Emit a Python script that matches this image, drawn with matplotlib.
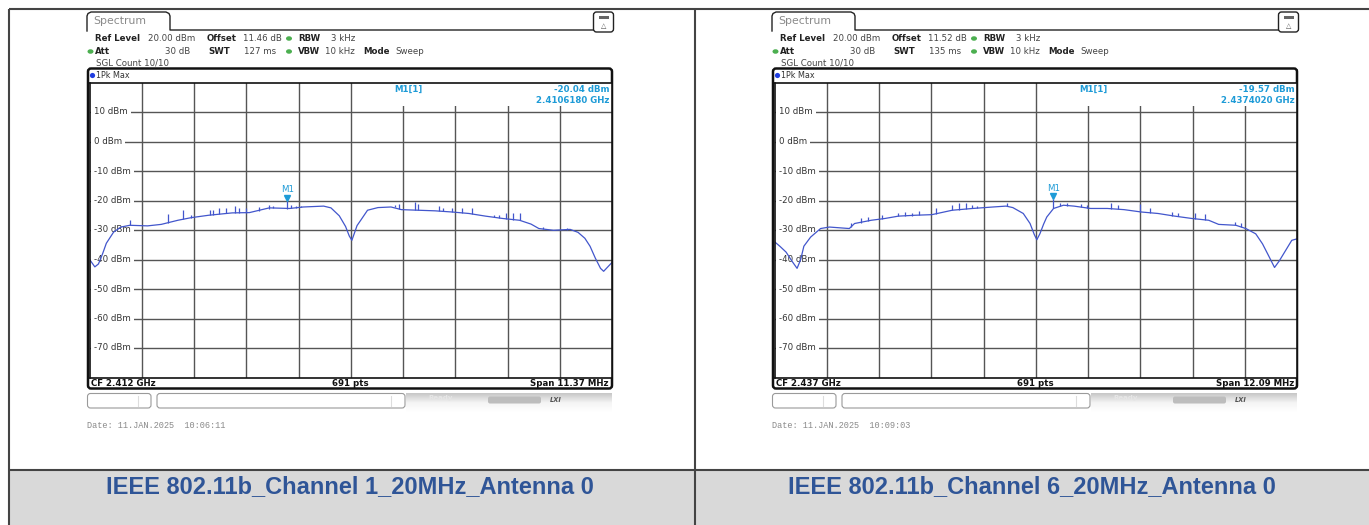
import matplotlib
matplotlib.use("Agg")
import matplotlib.pyplot as plt
from matplotlib.patches import FancyBboxPatch, Rectangle, Ellipse, Circle
import matplotlib.transforms as mtrans
import numpy as np

W, H = 1369, 525

# ------------------------------------------------------------------ data
titles = ["IEEE 802.11b_Channel 1_20MHz_Antenna 0",
          "IEEE 802.11b_Channel 6_20MHz_Antenna 0"]
center_ghz = [2.412, 2.437]
span_mhz = [11.37, 12.09]
offset_db = ["11.46 dB", "11.52 dB"]
swt_txt = ["127 ms", "135 ms"]
dates = ["Date: 11.JAN.2025  10:06:11", "Date: 11.JAN.2025  10:09:03"]
y_ticks = [10, 0, -10, -20, -30, -40, -50, -60, -70]
y_range = (-80, 20)
m1_freq_ghz = [2.4106180, 2.4374020]
m1_level = [-20.04, -19.57]

# channel 1 trace (offset from centre in MHz, level in dBm)
ch1_off = [-5.685, -5.571, -5.492, -5.401, -5.321, -5.162, -5.003, -4.809, -4.423,
           -4.127, -3.763, -3.468, -3.093, -2.581, -2.206, -1.774, -1.330, -1.035,
           -0.591, -0.432, -0.250, -0.114, -0.034, 0.023, 0.080, 0.136, 0.216, 0.364,
           0.591, 0.875, 1.103, 1.467, 1.831, 2.206, 2.570, 2.933, 3.309, 3.673, 3.923,
           4.093, 4.412, 4.775, 4.946, 5.094, 5.207, 5.321, 5.435, 5.503, 5.594, 5.685]
ch1_lvl = [-40.0, -42.5, -41.5, -38.0, -34.5, -30.7, -29.0, -28.4, -28.6,
           -28.1, -26.7, -25.8, -25.0, -24.2, -24.1, -22.5, -22.7, -22.2,
           -21.9, -22.5, -25.2, -28.8, -32.0, -33.5, -31.0, -28.5, -26.7, -23.3,
           -22.4, -22.2, -23.1, -23.3, -23.5, -23.9, -24.4, -25.3, -26.1, -26.7, -28.0,
           -29.5, -30.1, -29.8, -30.8, -32.8, -35.5, -39.5, -43.0, -44.0, -42.5, -41.0]
ch1_spur_off = [-4.809, -3.968, -3.650, -3.468, -3.070, -2.990, -2.877, -2.717, -2.524,
                -2.433, -2.285, -1.990, -1.774, -1.683, -1.382, -1.296, -1.182, -1.080,
                0.955, 1.057, 1.387, 1.467, 1.910, 2.012, 2.206, 2.422, 2.638, 3.127,
                3.229, 3.377, 3.525, 3.673, 4.184, 4.707]
ch1_spur_base = [-28.4, -27.5, -26.3, -25.8, -25.0, -24.9, -24.6, -24.4, -24.2,
                 -24.2, -24.1, -23.5, -22.8, -22.6, -22.8, -22.7, -22.6, -22.3,
                 -22.3, -22.8, -23.2, -23.3, -23.5, -23.6, -23.9, -24.2, -24.5, -25.7,
                 -25.9, -26.2, -26.5, -26.7, -29.7, -29.9]
ch1_spur_top = [-26.7, -24.7, -23.1, -24.8, -23.3, -23.1, -22.7, -22.4, -21.9,
                -22.7, -22.4, -22.2, -21.4, -21.9, -20.04, -21.6, -21.9, -21.7,
                -21.6, -21.3, -20.5, -21.3, -21.9, -22.5, -22.7, -22.5, -22.5, -24.8,
                -24.8, -24.4, -24.4, -24.2, -29.0, -29.2]

# channel 6 trace
ch6_off = [-6.045, -5.924, -5.779, -5.646, -5.525, -5.441, -5.368, -5.211, -4.981,
           -4.776, -4.316, -4.195, -3.808, -3.494, -3.180, -2.793, -2.406, -1.934,
           -1.463, -0.991, -0.689, -0.532, -0.290, -0.133, -0.036, 0.024, 0.097, 0.181,
           0.254, 0.411, 0.641, 0.883, 1.269, 1.656, 2.043, 2.442, 2.829, 3.216, 3.615,
           4.002, 4.232, 4.630, 4.860, 5.090, 5.247, 5.380, 5.525, 5.634, 5.779, 5.924,
           6.045]
ch6_lvl = [-34.0, -35.5, -37.5, -40.5, -43.0, -40.0, -35.5, -32.4, -29.5,
           -29.0, -29.5, -27.8, -26.7, -26.1, -25.3, -25.0, -24.8, -23.3,
           -22.7, -22.2, -21.9, -22.4, -24.4, -27.8, -31.5, -33.3, -31.2, -28.0,
           -25.6, -22.7, -21.6, -21.9, -22.7, -22.7, -23.1, -23.9, -24.4, -25.3, -26.1,
           -26.7, -28.1, -28.4, -29.5, -31.3, -34.7, -38.5, -42.7, -40.5, -37.0, -33.5,
           -33.0]
ch6_spur_off = [-4.268, -4.038, -3.881, -3.567, -3.192, -3.023, -2.865, -2.708, -2.321,
                -1.934, -1.777, -1.620, -1.475, -1.366, -0.677, 0.402, 0.568, 0.725,
                1.040, 1.185, 1.741, 1.898, 2.406, 2.636, 3.143, 3.301, 3.687, 3.917,
                4.618, 4.739]
ch6_spur_base = [-29.0, -27.5, -27.0, -26.2, -25.4, -25.2, -25.1, -25.0, -24.6,
                 -23.3, -23.1, -22.9, -22.7, -22.6, -21.9, -22.5, -21.7, -21.7,
                 -22.2, -22.5, -22.8, -23.0, -23.9, -24.1, -25.1, -25.4, -26.2, -26.6,
                 -28.4, -29.0]
ch6_spur_top = [-27.6, -26.1, -25.6, -25.0, -24.2, -23.9, -24.2, -23.5, -22.7,
                -21.6, -21.0, -21.0, -21.4, -21.9, -21.0, -19.57, -21.0, -20.8,
                -21.3, -21.6, -20.8, -21.6, -21.3, -22.5, -23.9, -24.2, -24.4, -24.6,
                -27.3, -27.6]

traces = [(ch1_off, ch1_lvl, ch1_spur_off, ch1_spur_base, ch1_spur_top),
          (ch6_off, ch6_lvl, ch6_spur_off, ch6_spur_base, ch6_spur_top)]

# ------------------------------------------------------------------ style
TRACE_C = "#4256cc"
MARK_C = "#1e9bd7"
GRID_C = "#555555"
FS = 6.2
plt.rcParams["font.family"] = ["DejaVu Sans"]

fig = plt.figure(figsize=(W / 100, H / 100), dpi=100)
ax0 = fig.add_axes([0, 0, 1, 1])
ax0.set_xlim(0, W)
ax0.set_ylim(H, 0)
ax0.axis("off")

# table frame
ax0.add_patch(Rectangle((9, 470), W - 9, H - 470, facecolor="#d9d9d9", edgecolor="none"))
for xs, ys in [([9, W], [9, 9]), ([9, 9], [9, H]), ([695, 695], [9, H]), ([9, W], [470, 470])]:
    ax0.plot(xs, ys, color="#444444", lw=1.5, solid_capstyle="butt")
for i, cx in enumerate([349.5, 1031.5]):
    ax0.text(cx, 487, titles[i], ha="center", va="center", fontsize=17,
             fontweight="bold", color="#2f5597", family="Liberation Sans")


def panel(i, ox):
    X = lambda v: v + ox
    # tab and top rule
    tx = [87, 87, 88, 91, 166, 169, 170, 170, 593]
    ty = [31, 16, 13.5, 12, 12, 13.5, 16, 30, 30]
    ax0.plot([X(v) for v in tx], ty, color="#222222", lw=1.0)
    ax0.text(X(93), 21.5, "Spectrum", fontsize=7.8, color="#8a8a8a", va="center")
    # icon box
    ax0.add_patch(FancyBboxPatch((X(593.5), 12), 20, 20,
                                 boxstyle="round,pad=0,rounding_size=3",
                                 fc="white", ec="#222222", lw=1.0))
    ax0.add_patch(Rectangle((X(598.5), 15.5), 10, 3, fc="#666666", ec="none"))
    ax0.text(X(603.5), 26, "\u25b3", fontsize=5, ha="center", va="center", color="#555555")

    # header
    lab = dict(fontsize=FS, fontweight="bold", color="#222222", va="center")
    val = dict(fontsize=FS, color="#444444", va="center")
    y1, y2, y3 = 38.5, 51.5, 62.5
    ax0.text(X(95), y1, "Ref Level", **lab)
    ax0.text(X(148), y1, "20.00 dBm", **val)
    ax0.text(X(207), y1, "Offset", **lab)
    ax0.text(X(243), y1, offset_db[i], **val)
    ax0.text(X(298), y1, "RBW", **lab)
    ax0.text(X(355), y1, "3 kHz", ha="right", **val)
    ax0.text(X(95), y2, "Att", **lab)
    ax0.text(X(190), y2, "30 dB", ha="right", **val)
    ax0.text(X(208), y2, "SWT", **lab)
    ax0.text(X(276), y2, swt_txt[i], ha="right", **val)
    ax0.text(X(298), y2, "VBW", **lab)
    ax0.text(X(355), y2, "10 kHz", ha="right", **val)
    ax0.text(X(363), y2, "Mode", **lab)
    ax0.text(X(395), y2, "Sweep", **val)
    ax0.text(X(96), y3, "SGL Count 10/10", **val)
    for gx, gy in [(289, y1), (90.5, y2), (289, y2)]:
        ax0.add_patch(Ellipse((X(gx), gy), 6, 4.5, fc="#4caf50", ec="none"))

    # graph box
    ax0.add_patch(FancyBboxPatch((X(88), 68.5), 524, 320,
                                 boxstyle="round,pad=0,rounding_size=3",
                                 fc="white", ec="#111111", lw=1.8))
    ax0.add_patch(Circle((X(92.5), 75.5), 2.6, fc="#1f3de0", ec="none"))
    ax0.text(X(96), 75.5, "1Pk Max", fontsize=5.8, color="#333333", va="center")
    # status row
    st = dict(fontsize=FS, fontweight="bold", color="#111111", va="center")
    ax0.text(X(91), 383, f"CF {center_ghz[i]:.3f} GHz", **st)
    ax0.text(X(350.8), 383, "691 pts", ha="center", **st)
    ax0.text(X(609), 383, f"Span {span_mhz[i]:.2f} MHz", ha="right", **st)

    # bottom bar
    ax0.add_patch(FancyBboxPatch((X(87.5), 393.5), 63.5, 14.5,
                                 boxstyle="round,pad=0,rounding_size=3",
                                 fc="white", ec="#9a9a9a", lw=0.8))
    ax0.plot([X(138), X(138)], [396, 406], color="#dddddd", lw=0.8)
    ax0.add_patch(FancyBboxPatch((X(157), 393.5), 248, 14.5,
                                 boxstyle="round,pad=0,rounding_size=3",
                                 fc="white", ec="#9a9a9a", lw=0.8))
    ax0.plot([X(391), X(391)], [396, 406], color="#dddddd", lw=0.8)
    grad = np.linspace(0, 1, 20).reshape(-1, 1)
    ax0.imshow(grad, extent=(X(406), X(612), 393, 412), aspect="auto",
               cmap=matplotlib.colors.LinearSegmentedColormap.from_list(
                   "g", ["#ffffff", "#f4f4f4", "#c8c8c8"]), zorder=1)
    ax0.text(X(441), 398, "Ready", fontsize=5, color="#e6e6e6", ha="center",
             va="center", fontweight="bold", zorder=2)
    ax0.add_patch(FancyBboxPatch((X(488), 396.5), 53, 7,
                                 boxstyle="round,pad=0,rounding_size=2",
                                 fc="#bdbdbd", ec="none", zorder=2))
    ax0.text(X(556), 400, "LXI", fontsize=4.8, color="#555555", ha="center",
             va="center", fontweight="bold", style="italic", zorder=2)
    ax0.set_xlim(0, W)
    ax0.set_ylim(H, 0)

    ax0.text(X(87), 425, dates[i], fontsize=6.2, color="#8a8a8a", va="center",
             family="Liberation Mono")

    # ----- the measurement plot
    x0, x1, yt, yb = X(89.6), X(612), 82.5, 377.5
    ax = fig.add_axes([x0 / W, 1 - yb / H, (x1 - x0) / W, (yb - yt) / H])
    half = span_mhz[i] / 2
    ax.set_xlim(-half, half)
    ax.set_ylim(*y_range)
    ax.set_xticks(np.linspace(-half, half, 11)[1:-1])
    ax.set_yticks(y_ticks)
    ax.tick_params(length=0, labelleft=False, labelbottom=False)
    ax.set_axisbelow(True)
    ax.grid(color=GRID_C, lw=1.0)
    for s in ax.spines.values():
        s.set_color("#111111")
        s.set_linewidth(1.2)
        s.set_zorder(6)
    tr = mtrans.blended_transform_factory(ax.transAxes, ax.transData)
    for v in y_ticks:
        ax.text(0.009, v, f"{v} dBm", transform=tr, fontsize=FS, color="#333333",
                va="center", ha="left", zorder=1,
                bbox=dict(fc="white", ec="none", pad=2.2))
    # marker readout area
    ax.add_patch(Rectangle((0.556, 0.92), 0.444, 0.08, transform=ax.transAxes,
                           fc="white", ec="none", zorder=1.5))
    mk = dict(fontsize=FS, fontweight="bold", color=MARK_C, va="center",
              transform=ax.transAxes, zorder=5)
    ax.text(0.6095, 0.976, "M1[1]", ha="center", **mk)
    ax.text(0.995, 0.976, f"{m1_level[i]:.2f} dBm", ha="right", **mk)
    ax.text(0.995, 0.939, f"{m1_freq_ghz[i]:.7f} GHz", ha="right", **mk)

    off, lvl, so, sb, stp = traces[i]
    ax.plot(off, lvl, color=TRACE_C, lw=0.9, zorder=3)
    ax.vlines(so, sb, stp, color=TRACE_C, lw=0.9, zorder=3)
    m_off = (m1_freq_ghz[i] - center_ghz[i]) * 1000
    ax.plot([m_off], [m1_level[i] + 1.0], marker="v", ms=4.2, color=MARK_C,
            ls="none", zorder=4)
    ax.text(m_off, m1_level[i] + 3.6, "M1", fontsize=FS, color=MARK_C,
            ha="center", va="center", zorder=4)


panel(0, 0)
panel(1, 685)

fig.savefig("out.png", dpi=100)
